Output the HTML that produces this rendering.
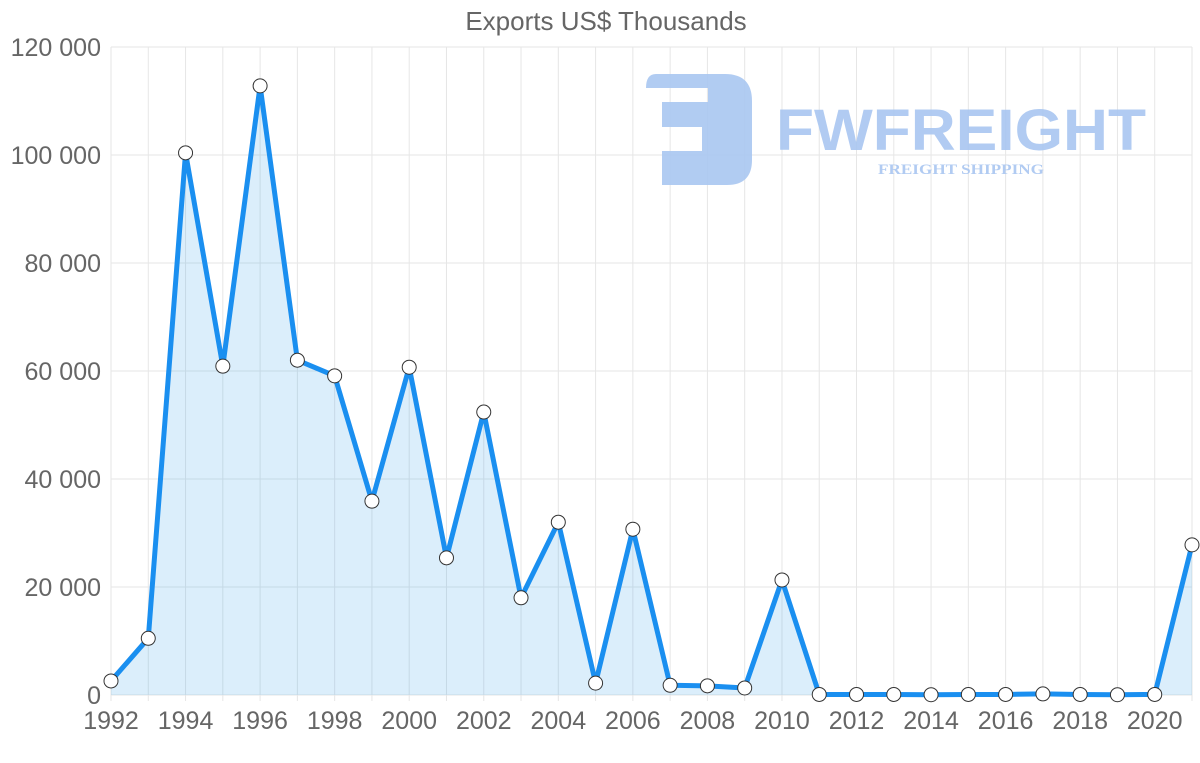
<!DOCTYPE html>
<html><head><meta charset="utf-8"><style>
html,body{margin:0;padding:0;background:#fff;}
svg{display:block;font-family:"Liberation Sans",sans-serif;}
</style></head><body>
<svg id="chart" width="1200" height="763" viewBox="0 0 1200 763">
<text x="606" y="30" text-anchor="middle" font-size="26" fill="#666">Exports US$ Thousands</text>
<g id="grid"></g>
<g fill="#a9c6f1" opacity="0.9">
<path d="M656 74 H725 Q752 74 752 101 V160 Q752 185 727 185 H662 V151 H702 V127 H662 V102 H708 V88 H646 Q646 74 656 74 Z"/>
<text x="776" y="150" font-size="58" font-weight="bold" textLength="370" lengthAdjust="spacingAndGlyphs">FWFREIGHT</text>
<text x="878" y="174" font-size="15" font-weight="bold" font-family="Liberation Serif,serif" textLength="166" lengthAdjust="spacingAndGlyphs">FREIGHT SHIPPING</text>
</g>
<g id="plot"></g>
<g id="axes"></g>
</svg>
<script>
const years=[1992,1993,1994,1995,1996,1997,1998,1999,2000,2001,2002,2003,2004,2005,2006,2007,2008,2009,2010,2011,2012,2013,2014,2015,2016,2017,2018,2019,2020,2021];
const exportsValues=[2600,10500,100400,60900,112800,62000,59100,35900,60700,25400,52400,18000,32000,2200,30700,1800,1700,1300,21300,100,100,100,50,100,100,200,100,50,100,27800];
const yTicks=[0,20000,40000,60000,80000,100000,120000];
const yTickLabels=["0","20 000","40 000","60 000","80 000","100 000","120 000"];
const NS="http://www.w3.org/2000/svg";
const X0=111,X1=1192,Y0=695,Y1=47;
const xs=y=>X0+(y-years[0])/(years[years.length-1]-years[0])*(X1-X0);
const ys=v=>Y0-v/120000*(Y0-Y1);
function mk(tag,attrs,parent){const e=document.createElementNS(NS,tag);for(const k in attrs)e.setAttribute(k,attrs[k]);parent.appendChild(e);return e;}
const grid=document.getElementById('grid'),plot=document.getElementById('plot'),axes=document.getElementById('axes');
yTicks.forEach((t,i)=>{
 const l=mk('line',{x1:X0,x2:X1,y1:ys(t),y2:ys(t),stroke:'#e6e6e6','stroke-width':1},grid);
 
 
 const tx=mk('text',{x:101,y:ys(t)+9,'text-anchor':'end','font-size':25,fill:'#666'},axes);
 tx.textContent=yTickLabels[i];
 
 
});
years.forEach((yr,i)=>{
 const l=mk('line',{x1:xs(yr),x2:xs(yr),y1:Y1,y2:Y0+6,stroke:'#e6e6e6','stroke-width':1},grid);
 
 
 if(i%2===0){
  const tx=mk('text',{x:xs(yr),y:729,'text-anchor':'middle','font-size':25,fill:'#666'},axes);
  tx.textContent=yr;
  
  
 }
});
const pts=years.map((y,i)=>[xs(y),ys(exportsValues[i])]);
const area=mk('path',{d:'M'+pts.map(p=>p.join(',')).join(' L')+` L${X1},${Y0} L${X0},${Y0} Z`,fill:'rgba(54,162,235,0.18)'},plot);


const line=mk('polyline',{points:pts.map(p=>p.join(',')).join(' '),fill:'none',stroke:'#1a8ff0','stroke-width':5,'stroke-linejoin':'round'},plot);


pts.forEach(p=>{
 const c=mk('circle',{cx:p[0],cy:p[1],r:7,fill:'#fff',stroke:'#333','stroke-width':1},plot);
 
 
});
</script>
</body></html>
